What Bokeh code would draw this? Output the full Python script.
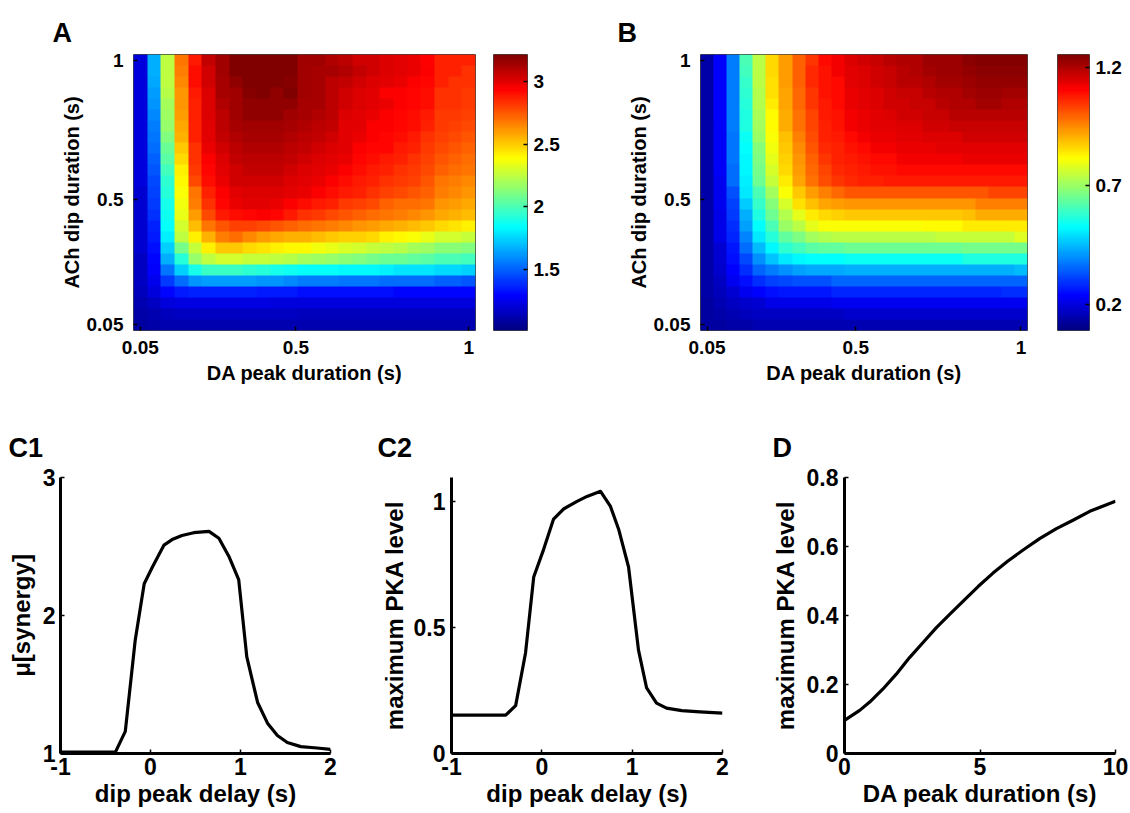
import numpy as np
from bokeh.plotting import figure
from bokeh.models import Range1d, FixedTicker, LinearColorMapper
from bokeh.layouts import row, column
from bokeh.embed import file_html
from bokeh.resources import INLINE

FONT = "Liberation Sans"

# ---------------- data ----------------
# stimulus durations (s) of the heat-map grid (DA peak duration = x, ACh dip duration = y)
durations = [0.050, 0.090, 0.129, 0.169, 0.208, 0.248, 0.288, 0.327, 0.367, 0.406,
             0.446, 0.485, 0.525, 0.565, 0.604, 0.644, 0.683, 0.723, 0.763, 0.802,
             0.842, 0.881, 0.921, 0.960, 1.000]
duration_ticks = [0.05, 0.5, 1]
duration_tick_labels = ["0.05", "0.5", "1"]

# panel A: synergy, rows from ACh dip 1 s (top) down to 0.05 s (bottom)
synergy_A = [
    [1.21,1.67,2.25,2.69,2.89,3.07,3.15,3.22,3.22,3.22,3.22,3.22,3.15,3.15,3.11,3.09,3.04,3.04,3.02,3.00,2.98,2.94,2.87,2.87,2.87],
    [1.21,1.67,2.25,2.67,2.91,3.04,3.15,3.22,3.22,3.22,3.22,3.22,3.15,3.13,3.13,3.11,3.07,3.04,3.02,3.00,2.98,2.95,2.87,2.87,2.84],
    [1.21,1.65,2.25,2.65,2.91,3.04,3.13,3.18,3.22,3.22,3.22,3.20,3.15,3.13,3.09,3.07,3.04,3.02,3.00,2.98,2.95,2.93,2.87,2.84,2.84],
    [1.21,1.63,2.23,2.62,2.89,3.02,3.13,3.15,3.20,3.22,3.18,3.22,3.15,3.13,3.09,3.04,3.02,3.00,2.95,2.95,2.93,2.91,2.84,2.84,2.82],
    [1.21,1.61,2.20,2.62,2.87,3.02,3.11,3.15,3.18,3.18,3.18,3.18,3.13,3.13,3.09,3.04,3.02,3.00,2.98,2.95,2.93,2.91,2.84,2.84,2.82],
    [1.21,1.58,2.18,2.60,2.87,3.02,3.09,3.15,3.18,3.18,3.18,3.15,3.13,3.11,3.09,3.02,3.00,2.98,2.95,2.93,2.91,2.89,2.82,2.82,2.80],
    [1.21,1.56,2.16,2.58,2.87,3.00,3.09,3.13,3.15,3.15,3.15,3.13,3.11,3.09,3.07,3.00,3.00,2.95,2.95,2.93,2.91,2.87,2.82,2.80,2.78],
    [1.21,1.54,2.12,2.56,2.87,3.00,3.07,3.11,3.13,3.13,3.13,3.11,3.09,3.07,3.04,3.00,2.98,2.95,2.93,2.91,2.89,2.84,2.80,2.78,2.76],
    [1.21,1.52,2.07,2.51,2.84,2.98,3.04,3.09,3.11,3.11,3.11,3.09,3.07,3.04,3.02,3.00,2.95,2.93,2.93,2.89,2.87,2.82,2.78,2.76,2.73],
    [1.21,1.50,2.03,2.47,2.84,2.95,3.02,3.07,3.09,3.09,3.09,3.07,3.04,3.02,3.00,2.98,2.93,2.91,2.89,2.87,2.84,2.80,2.76,2.73,2.71],
    [1.21,1.47,1.98,2.42,2.82,2.93,3.00,3.04,3.07,3.07,3.07,3.04,3.02,3.00,2.98,2.95,2.91,2.89,2.87,2.84,2.82,2.78,2.73,2.71,2.69],
    [1.21,1.45,1.94,2.40,2.78,2.91,2.98,3.04,3.04,3.04,3.04,3.02,3.00,2.98,2.95,2.91,2.89,2.87,2.84,2.82,2.80,2.76,2.69,2.67,2.65],
    [1.19,1.43,1.92,2.38,2.69,2.87,2.95,3.00,3.02,3.02,3.02,3.00,2.98,2.95,2.91,2.89,2.87,2.84,2.80,2.78,2.76,2.73,2.67,2.65,2.62],
    [1.19,1.41,1.89,2.36,2.67,2.84,2.93,2.98,3.00,3.00,2.98,2.95,2.91,2.89,2.87,2.82,2.80,2.78,2.73,2.71,2.71,2.69,2.62,2.60,2.58],
    [1.19,1.39,1.87,2.34,2.60,2.78,2.89,2.91,2.93,2.95,2.93,2.89,2.84,2.82,2.78,2.76,2.73,2.71,2.69,2.67,2.65,2.62,2.58,2.56,2.53],
    [1.19,1.36,1.85,2.29,2.53,2.69,2.76,2.80,2.80,2.78,2.76,2.73,2.71,2.69,2.67,2.65,2.62,2.60,2.58,2.56,2.53,2.51,2.47,2.45,2.42],
    [1.19,1.34,1.81,2.25,2.42,2.56,2.67,2.71,2.65,2.60,2.58,2.56,2.56,2.53,2.51,2.49,2.49,2.47,2.42,2.40,2.38,2.34,2.29,2.29,2.27],
    [1.19,1.32,1.74,2.09,2.27,2.42,2.51,2.51,2.47,2.45,2.42,2.40,2.40,2.36,2.34,2.31,2.29,2.27,2.25,2.23,2.20,2.18,2.14,2.14,2.12],
    [1.16,1.30,1.67,1.92,2.16,2.25,2.29,2.29,2.27,2.27,2.25,2.23,2.20,2.18,2.16,2.14,2.12,2.09,2.07,2.07,2.05,2.03,2.00,2.00,1.98],
    [1.16,1.28,1.54,1.74,1.89,1.96,1.96,1.96,1.94,1.92,1.89,1.87,1.85,1.85,1.85,1.83,1.83,1.83,1.81,1.78,1.78,1.78,1.76,1.76,1.74],
    [1.16,1.25,1.41,1.52,1.61,1.63,1.63,1.63,1.63,1.61,1.61,1.58,1.56,1.56,1.56,1.54,1.54,1.54,1.52,1.52,1.52,1.52,1.50,1.50,1.47],
    [1.14,1.21,1.30,1.34,1.36,1.36,1.36,1.36,1.36,1.34,1.34,1.34,1.32,1.32,1.32,1.32,1.32,1.32,1.32,1.30,1.30,1.30,1.30,1.30,1.30],
    [1.12,1.16,1.21,1.23,1.23,1.23,1.23,1.23,1.23,1.23,1.21,1.21,1.21,1.21,1.21,1.21,1.21,1.21,1.21,1.21,1.21,1.21,1.21,1.21,1.21],
    [1.10,1.12,1.14,1.16,1.16,1.16,1.16,1.16,1.16,1.16,1.16,1.16,1.14,1.14,1.14,1.14,1.14,1.14,1.14,1.14,1.14,1.14,1.14,1.14,1.14],
    [1.08,1.10,1.12,1.12,1.12,1.12,1.12,1.12,1.12,1.12,1.12,1.12,1.12,1.12,1.12,1.12,1.12,1.12,1.12,1.12,1.12,1.12,1.12,1.12,1.12],
]
synergy_range = [1.01, 3.22]
synergy_cbar_ticks = [1.5, 2, 2.5, 3]
synergy_cbar_labels = ["1.5", "2", "2.5", "3"]

# panel B: maximum PKA level, rows from ACh dip 1 s (top) down to 0.05 s (bottom)
pka_B = [
    [0.14,0.24,0.38,0.61,0.74,0.86,0.93,1.00,1.05,1.10,1.12,1.15,1.16,1.17,1.19,1.20,1.20,1.22,1.22,1.22,1.24,1.25,1.25,1.25,1.25],
    [0.14,0.24,0.38,0.60,0.74,0.86,0.93,1.00,1.06,1.09,1.12,1.14,1.15,1.16,1.17,1.19,1.20,1.21,1.22,1.22,1.23,1.24,1.24,1.24,1.24],
    [0.14,0.24,0.38,0.59,0.74,0.85,0.93,1.00,1.06,1.09,1.10,1.14,1.15,1.16,1.17,1.19,1.19,1.20,1.21,1.21,1.22,1.23,1.23,1.23,1.23],
    [0.14,0.24,0.38,0.58,0.73,0.85,0.92,0.99,1.05,1.09,1.10,1.13,1.14,1.15,1.16,1.17,1.17,1.19,1.20,1.20,1.21,1.22,1.22,1.21,1.21],
    [0.14,0.24,0.38,0.57,0.73,0.84,0.92,0.99,1.05,1.08,1.10,1.13,1.14,1.15,1.16,1.16,1.17,1.17,1.19,1.20,1.20,1.21,1.21,1.20,1.20],
    [0.14,0.24,0.38,0.56,0.72,0.82,0.91,0.98,1.03,1.08,1.09,1.12,1.13,1.14,1.15,1.16,1.16,1.17,1.17,1.19,1.19,1.19,1.19,1.19,1.19],
    [0.14,0.23,0.38,0.56,0.71,0.82,0.91,0.98,1.03,1.07,1.09,1.12,1.13,1.14,1.14,1.15,1.15,1.16,1.16,1.17,1.17,1.17,1.17,1.17,1.17],
    [0.14,0.23,0.37,0.54,0.70,0.81,0.89,0.96,1.02,1.07,1.08,1.10,1.12,1.13,1.13,1.14,1.14,1.15,1.15,1.15,1.16,1.16,1.16,1.16,1.16],
    [0.14,0.23,0.37,0.53,0.68,0.80,0.88,0.95,1.01,1.06,1.07,1.09,1.10,1.12,1.12,1.13,1.13,1.13,1.14,1.14,1.14,1.14,1.14,1.14,1.14],
    [0.14,0.23,0.37,0.52,0.67,0.79,0.87,0.94,1.00,1.05,1.07,1.08,1.09,1.10,1.10,1.12,1.12,1.12,1.12,1.12,1.13,1.13,1.13,1.13,1.13],
    [0.14,0.23,0.36,0.52,0.66,0.77,0.86,0.93,0.99,1.03,1.06,1.07,1.08,1.09,1.09,1.10,1.10,1.10,1.10,1.10,1.10,1.10,1.10,1.10,1.10],
    [0.14,0.22,0.36,0.51,0.65,0.75,0.84,0.92,0.98,1.02,1.05,1.06,1.07,1.07,1.08,1.08,1.08,1.08,1.08,1.08,1.08,1.08,1.08,1.08,1.08],
    [0.14,0.22,0.33,0.50,0.61,0.71,0.81,0.88,0.93,0.96,0.99,1.01,1.01,1.01,1.01,1.01,1.01,1.01,1.01,1.01,1.01,1.01,1.03,1.03,1.03],
    [0.14,0.22,0.31,0.47,0.59,0.68,0.77,0.85,0.89,0.92,0.93,0.94,0.94,0.94,0.94,0.94,0.94,0.94,0.94,0.94,0.94,0.96,0.96,0.96,0.96],
    [0.14,0.21,0.30,0.44,0.56,0.65,0.73,0.79,0.84,0.86,0.87,0.88,0.88,0.88,0.88,0.88,0.88,0.88,0.88,0.88,0.89,0.91,0.91,0.91,0.91],
    [0.14,0.21,0.29,0.42,0.53,0.61,0.70,0.74,0.79,0.81,0.81,0.81,0.81,0.81,0.81,0.81,0.81,0.82,0.82,0.82,0.84,0.84,0.84,0.84,0.84],
    [0.14,0.21,0.28,0.39,0.50,0.57,0.64,0.67,0.71,0.73,0.74,0.74,0.74,0.74,0.74,0.74,0.74,0.74,0.75,0.75,0.75,0.75,0.75,0.75,0.78],
    [0.14,0.19,0.26,0.36,0.45,0.52,0.58,0.60,0.63,0.64,0.64,0.65,0.65,0.65,0.65,0.65,0.65,0.65,0.65,0.65,0.66,0.66,0.66,0.66,0.66],
    [0.14,0.19,0.25,0.32,0.40,0.46,0.50,0.52,0.53,0.53,0.53,0.54,0.54,0.54,0.54,0.54,0.54,0.54,0.54,0.54,0.56,0.56,0.56,0.56,0.56],
    [0.14,0.18,0.24,0.29,0.35,0.38,0.40,0.42,0.43,0.43,0.43,0.44,0.44,0.44,0.44,0.44,0.44,0.44,0.44,0.44,0.44,0.44,0.44,0.44,0.45],
    [0.14,0.17,0.22,0.25,0.29,0.31,0.32,0.33,0.33,0.33,0.35,0.35,0.35,0.35,0.35,0.35,0.35,0.35,0.35,0.35,0.35,0.35,0.35,0.35,0.35],
    [0.14,0.16,0.19,0.22,0.24,0.25,0.26,0.26,0.26,0.26,0.28,0.28,0.28,0.28,0.28,0.28,0.28,0.28,0.28,0.28,0.28,0.28,0.28,0.29,0.29],
    [0.13,0.15,0.17,0.18,0.19,0.21,0.21,0.21,0.21,0.21,0.22,0.22,0.22,0.22,0.22,0.22,0.22,0.22,0.22,0.22,0.22,0.22,0.22,0.22,0.22],
    [0.13,0.14,0.15,0.16,0.17,0.17,0.17,0.17,0.17,0.17,0.17,0.18,0.18,0.18,0.18,0.18,0.18,0.18,0.18,0.18,0.18,0.18,0.18,0.18,0.18],
    [0.13,0.13,0.14,0.14,0.15,0.15,0.15,0.15,0.15,0.15,0.15,0.15,0.15,0.15,0.15,0.15,0.15,0.15,0.15,0.15,0.15,0.15,0.15,0.15,0.15],
]
pka_range = [0.09, 1.255]
pka_cbar_ticks = [0.2, 0.7, 1.2]
pka_cbar_labels = ["0.2", "0.7", "1.2"]

# panel C1: mean synergy vs dip peak delay
delay_C1 = [-1.0, -0.91, -0.48, -0.39, -0.28, -0.17, -0.07, 0.02, 0.15, 0.24, 0.35, 0.48,
            0.65, 0.76, 0.87, 0.98, 1.07, 1.19, 1.30, 1.41, 1.52, 1.67, 1.85, 2.0]
synergy_C1 = [1.01, 1.01, 1.01, 1.01, 1.16, 1.82, 2.23, 2.35, 2.51, 2.55, 2.58, 2.60,
              2.61, 2.56, 2.43, 2.26, 1.70, 1.37, 1.22, 1.13, 1.08, 1.05, 1.04, 1.03]

# panel C2: maximum PKA level vs dip peak delay
delay_C2 = [-1.0, -0.79, -0.40, -0.29, -0.18, -0.09, 0.02, 0.13, 0.24, 0.39, 0.50, 0.65,
            0.76, 0.85, 0.96, 1.07, 1.16, 1.27, 1.38, 1.55, 1.75, 2.0]
pka_C2 = [0.152, 0.152, 0.152, 0.19, 0.40, 0.70, 0.81, 0.93, 0.97, 1.00, 1.02, 1.04,
          0.98, 0.89, 0.74, 0.41, 0.26, 0.20, 0.18, 0.17, 0.165, 0.16]

# panel D: maximum PKA level vs DA peak duration
da_duration_D = [0.0, 0.56, 0.93, 1.42, 1.91, 2.40, 2.89, 3.39, 3.88, 4.37, 4.93, 5.48,
                 6.03, 6.59, 7.20, 7.82, 8.43, 9.05, 10.0]
pka_D = [0.096, 0.125, 0.149, 0.187, 0.230, 0.278, 0.321, 0.365, 0.403, 0.441, 0.484, 0.523,
         0.558, 0.590, 0.623, 0.652, 0.676, 0.702, 0.731]


# ---------------- helpers ----------------
def jet_palette(n=256):
    cols = []
    for i in range(n):
        t = i / (n - 1)
        r = min(max(1.5 - abs(4 * t - 3), 0.0), 1.0)
        g = min(max(1.5 - abs(4 * t - 2), 0.0), 1.0)
        b = min(max(1.5 - abs(4 * t - 1), 0.0), 1.0)
        cols.append("#%02x%02x%02x" % (int(round(r * 255)), int(round(g * 255)), int(round(b * 255))))
    return cols


JET = jet_palette()


def style_axis(ax, tick_fs, label_fs, standoff, label_standoff, tick_in=4, line_width=None):
    ax.major_label_text_font = FONT
    ax.major_label_text_font_style = "bold"
    ax.major_label_text_font_size = tick_fs
    ax.major_label_text_color = "black"
    ax.axis_label_text_font = FONT
    ax.axis_label_text_font_style = "bold"
    ax.axis_label_text_font_size = label_fs
    ax.axis_label_text_color = "black"
    ax.major_label_standoff = standoff
    ax.axis_label_standoff = label_standoff
    ax.minor_tick_line_color = None
    ax.major_tick_out = 0
    ax.major_tick_in = tick_in
    ax.major_tick_line_color = "black"
    ax.major_tick_line_width = 1.5
    if line_width is None:
        ax.axis_line_color = None
    else:
        ax.axis_line_color = "black"
        ax.axis_line_width = line_width


def overrides(ticks, labels):
    return {t: l for t, l in zip(ticks, labels)}


def panel_letter(p, text, dx, standoff):
    p.title.text = text
    p.title.align = "left"
    p.title.offset = dx
    p.title.standoff = standoff
    p.title.text_font = FONT
    p.title.text_font_style = "bold"
    p.title.text_font_size = "27px"
    p.title.text_color = "black"


def heatmap_fig(mat, rng, width, height, left, right, top, bottom, letter, letter_dx):
    d = np.array(durations)
    step = (d[-1] - d[0]) / (len(d) - 1)
    x0 = d[0] - step / 2
    span = d[-1] - d[0] + step
    p = figure(width=width, height=height, x_range=Range1d(x0, x0 + span),
               y_range=Range1d(x0, x0 + span), output_backend="svg", toolbar_location=None,
               min_border_left=left, min_border_right=right, min_border_top=top,
               min_border_bottom=bottom)
    p.grid.visible = False
    img = np.flipud(np.array(mat, dtype=float)).copy()
    mapper = LinearColorMapper(palette=JET, low=rng[0], high=rng[1])
    p.image(image=[img], x=x0, y=x0, dw=span, dh=span, color_mapper=mapper)
    p.outline_line_color = "#444444"
    p.outline_line_width = 1
    for ax in (p.xaxis[0], p.yaxis[0]):
        ax.ticker = FixedTicker(ticks=duration_ticks)
        ax.major_label_overrides = overrides(duration_ticks, duration_tick_labels)
    p.xaxis.axis_label = "DA peak duration (s)"
    p.yaxis.axis_label = "ACh dip duration (s)"
    style_axis(p.xaxis[0], "19px", "20px", 10, 5)
    style_axis(p.yaxis[0], "19px", "20px", 10, 1)
    panel_letter(p, letter, letter_dx, 14)
    return p


def colorbar_fig(rng, ticks, labels, width, height, left, right, top, bottom):
    p = figure(width=width, height=height, x_range=Range1d(0, 1), y_range=Range1d(rng[0], rng[1]),
               y_axis_location="right", output_backend="svg", toolbar_location=None,
               min_border_left=left, min_border_right=right, min_border_top=top,
               min_border_bottom=bottom)
    p.grid.visible = False
    grad = np.linspace(rng[0], rng[1], 256).reshape(256, 1)
    mapper = LinearColorMapper(palette=JET, low=rng[0], high=rng[1])
    p.image(image=[grad], x=0, y=rng[0], dw=1, dh=rng[1] - rng[0], color_mapper=mapper)
    p.xaxis.visible = False
    p.outline_line_color = "#444444"
    ax = p.yaxis[0]
    ax.ticker = FixedTicker(ticks=ticks)
    ax.major_label_overrides = overrides(ticks, labels)
    style_axis(ax, "19px", "19px", 6, 0, tick_in=4)
    return p


def line_fig(x, y, xr, yr, xticks, xlabels, yticks, ylabels, xlabel, ylabel,
             width, left, right, ystandoff, ylabel_standoff, letter, letter_dx):
    p = figure(width=width, height=413, x_range=Range1d(*xr), y_range=Range1d(*yr),
               output_backend="svg", toolbar_location=None,
               min_border_left=left, min_border_right=right, min_border_top=77,
               min_border_bottom=60)
    p.grid.visible = False
    p.outline_line_color = None
    p.line(x, y, line_color="black", line_width=3.2, line_join="round")
    p.xaxis.ticker = FixedTicker(ticks=xticks)
    p.xaxis.major_label_overrides = overrides(xticks, xlabels)
    p.yaxis.ticker = FixedTicker(ticks=yticks)
    p.yaxis.major_label_overrides = overrides(yticks, ylabels)
    p.xaxis.axis_label = xlabel
    p.yaxis.axis_label = ylabel
    style_axis(p.xaxis[0], "23px", "24px", 4, 2, tick_in=4, line_width=3)
    style_axis(p.yaxis[0], "23px", "24px", ystandoff, ylabel_standoff, tick_in=4, line_width=3)
    panel_letter(p, letter, letter_dx, 29)
    return p


# ---------------- figures ----------------
pA = heatmap_fig(synergy_A, synergy_range, 485, 400, 133, 10, 50, 70, "A", -81)
cA = colorbar_fig(synergy_range, synergy_cbar_ticks, synergy_cbar_labels, 125, 400, 8, 83, 54, 65)
pB = heatmap_fig(pka_B, pka_range, 440, 400, 90, 23, 50, 70, "B", -83)
cB = colorbar_fig(pka_range, pka_cbar_ticks, pka_cbar_labels, 80, 400, 7, 41, 48, 70)

pC1 = line_fig(delay_C1, synergy_C1, (-1, 2), (1, 3), [-1, 0, 1, 2], ["-1", "0", "1", "2"],
               [1, 2, 3], ["1", "2", "3"], "dip peak delay (s)", "μ[synergy]",
               370, 60, 40, 5, 5, "C1", -52)
pC2 = line_fig(delay_C2, pka_C2, (-1, 2), (0, 1.095), [-1, 0, 1, 2], ["-1", "0", "1", "2"],
               [0, 0.5, 1], ["0", "0.5", "1"], "dip peak delay (s)", "maximum PKA level",
               380, 81, 28, 6, 3, "C2", -74)
pD = line_fig(da_duration_D, pka_D, (0, 10), (0, 0.8), [0, 5, 10], ["0", "5", "10"],
              [0, 0.2, 0.4, 0.6, 0.8], ["0", "0.2", "0.4", "0.6", "0.8"],
              "DA peak duration (s)", "maximum PKA level",
              380, 94, 15, 6, 5, "D", -72)

layout = column(row(pA, cA, pB, cB), row(pC1, pC2, pD))

with open("out.html", "w") as f:
    f.write(file_html(layout, INLINE))
